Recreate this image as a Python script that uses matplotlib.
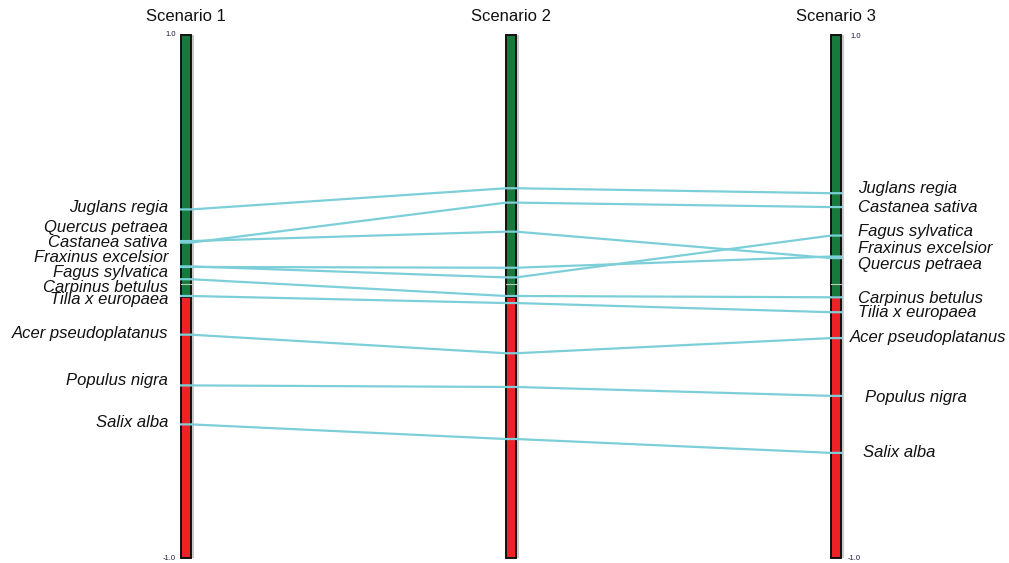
import matplotlib
matplotlib.use("Agg")
import matplotlib.pyplot as plt
from matplotlib.patches import Rectangle

# Scenario scores per species (scale -1 .. 1)
scenarios = ["Scenario 1", "Scenario 2", "Scenario 3"]
species = ["Juglans regia", "Quercus petraea", "Castanea sativa",
           "Fraxinus excelsior", "Fagus sylvatica", "Carpinus betulus",
           "Tilia x europaea", "Acer pseudoplatanus", "Populus nigra",
           "Salix alba"]
scenario1 = [0.333, 0.212, 0.206, 0.113, 0.115, 0.066, 0.002, -0.146, -0.340, -0.489]
scenario2 = [0.414, 0.248, 0.359, 0.110, 0.073, 0.002, -0.025, -0.217, -0.346, -0.545]
scenario3 = [0.395, 0.147, 0.342, 0.153, 0.233, -0.003, -0.060, -0.159, -0.380, -0.598]

# Label placement (spread apart so names do not collide)
left_label_y = [0.339, 0.262, 0.205, 0.151, 0.090, 0.036, -0.010, -0.140, -0.323, -0.480]
right_label_y = [0.412, 0.124, 0.342, 0.185, 0.250, -0.006, -0.063, -0.155, -0.388, -0.598]
right_label_dx = [0, 0, 0, 0, 0, 0, 0, -8, 7, 5]

W, H = 1009, 563
fig = plt.figure(figsize=(W / 100, H / 100), dpi=100)
ax = fig.add_axes([0, 0, 1, 1])
px_x = 325.0          # pixels per scenario step
px_y = 261.5          # pixels per unit of score
x_first = 186.0
y_zero = 296.5
ax.set_xlim(-x_first / px_x, (W - x_first) / px_x)
ax.set_ylim(-(H - y_zero) / px_y, y_zero / px_y)
ax.axis("off")

bar_w = 10 / px_x
line_color = "#7ccfd9"
green = "#17793b"
red = "#ec2226"

# Score bars
for i in range(len(scenarios)):
    ax.plot([i + bar_w / 2 + 2 / px_x] * 2, [-1.0, 1.0], color="#c4c4c4",
            lw=1.3, zorder=1, solid_capstyle="butt")
    ax.add_patch(Rectangle((i - bar_w / 2, 0), bar_w, 1.0, facecolor=green,
                           edgecolor="#111111", lw=1.4, zorder=2))
    ax.add_patch(Rectangle((i - bar_w / 2, -1.0), bar_w, 1.0, facecolor=red,
                           edgecolor="#111111", lw=1.4, zorder=2))
    ax.plot([i - bar_w / 2, i + bar_w / 2], [0.048, 0.048], color="#b9c9bd",
            lw=0.8, zorder=3)
    ax.text(i, 1.07, scenarios[i], ha="center", va="center",
            fontsize=12, family="Liberation Sans", color="#111111")

# Species trajectories across scenarios
for k in range(len(species)):
    vals = [scenario1[k], scenario2[k], scenario3[k]]
    xs, ys = [], []
    for i, v in enumerate(vals):
        xs += [i - bar_w / 2, i + bar_w / 2]
        ys += [v, v]
    ax.plot(xs, ys, color=line_color, lw=1.6, zorder=4,
            solid_joinstyle="round")

# Species names
for k, name in enumerate(species):
    ax.text(-18 / px_x, left_label_y[k], name, ha="right", va="center",
            fontsize=12, style="italic", family="Liberation Sans",
            color="#111111")
    ax.text(2 + (22 + right_label_dx[k]) / px_x, right_label_y[k], name,
            ha="left", va="center", fontsize=12, style="italic",
            family="Liberation Sans", color="#111111")

# Scale ends
tick_kw = dict(fontsize=5.5, family="Liberation Sans", color="#1a1a3a", va="center")
ax.text(-10 / px_x, 1.0, "1.0", ha="right", **tick_kw)
ax.text(-10 / px_x, -1.0, "-1.0", ha="right", **tick_kw)
ax.text(2 + 14 / px_x, 0.995, "1.0", ha="left", **tick_kw)
ax.text(2 + 12 / px_x, -1.0, "-1.0", ha="left", **tick_kw)

fig.savefig("out.png", dpi=100, facecolor="white")
